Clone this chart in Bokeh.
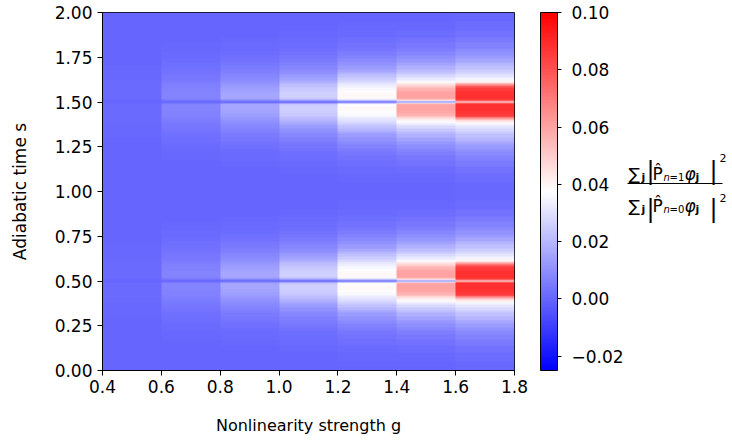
import numpy as np
from bokeh.plotting import figure
from bokeh.layouts import row
from bokeh.models import (LinearColorMapper, ColorBar, FixedTicker, PrintfTickFormatter,
                          CustomJSTickFormatter, Range1d)
from bokeh.core.properties import value
from bokeh.embed import file_html
from bokeh.resources import INLINE

# ---------------- data ----------------
g_edges = [0.4, 0.6, 0.8, 1.0, 1.2, 1.4, 1.6, 1.8]          # nonlinearity strength columns
s_centers = [0.5, 1.5]                                     # resonance centres in s
# distance |s - centre| : band edges
d_edges = [0, 0.004, 0.008, 0.012, 0.018, 0.025, 0.035, 0.05, 0.065, 0.08, 0.09,
           0.1, 0.11, 0.12, 0.135, 0.15, 0.165, 0.18, 0.2, 0.22, 0.24, 0.26,
           0.28, 0.3, 0.33, 0.36, 0.4, 0.45, 0.5]
# value in each band, one list per g column
col_g04 = [0, 0.0003, 0.0007, 0.001, 0.0012, 0.0012, 0.0012, 0.0011, 0.0011, 0.001,
           0.001, 0.0009, 0.0009, 0.0008, 0.0007, 0.0006, 0.0005, 0.0004, 0.0003,
           0.0003, 0.0002, 0.0002, 0.0001, 0.0001, 0, 0, 0, 0]
col_g06 = [0.0002, 0.002, 0.0045, 0.0065, 0.0075, 0.0075, 0.0075, 0.0072, 0.0068,
           0.0064, 0.006, 0.0056, 0.0052, 0.0047, 0.0042, 0.0037, 0.0032, 0.0027,
           0.0022, 0.0017, 0.0013, 0.001, 0.0007, 0.0005, 0.0003, 0.0002, 0.0001, 0]
col_g08 = [0.0005, 0.005, 0.01, 0.014, 0.016, 0.016, 0.016, 0.015, 0.014, 0.013,
           0.012, 0.011, 0.01, 0.009, 0.008, 0.007, 0.006, 0.005, 0.004, 0.003,
           0.0024, 0.0018, 0.0013, 0.0009, 0.0005, 0.0003, 0.0001, 0]
col_g10 = [0.001, 0.008, 0.017, 0.022, 0.025, 0.026, 0.026, 0.025, 0.024, 0.022,
           0.021, 0.019, 0.017, 0.015, 0.013, 0.011, 0.0095, 0.008, 0.0065, 0.005,
           0.004, 0.003, 0.0022, 0.0015, 0.001, 0.0005, 0.0002, 0]
col_g12 = [0.003, 0.015, 0.028, 0.035, 0.038, 0.039, 0.039, 0.038, 0.036, 0.034,
           0.032, 0.03, 0.028, 0.025, 0.022, 0.019, 0.016, 0.013, 0.011, 0.009,
           0.007, 0.0055, 0.0042, 0.003, 0.002, 0.0012, 0.0005, 0.0001]
col_g14 = [0.01, 0.03, 0.048, 0.056, 0.06, 0.06, 0.06, 0.059, 0.056, 0.05,
           0.045, 0.04, 0.036, 0.032, 0.028, 0.024, 0.021, 0.018, 0.015, 0.012,
           0.01, 0.008, 0.006, 0.0045, 0.003, 0.0018, 0.0008, 0.0002]
col_g16 = [0.05, 0.07, 0.083, 0.087, 0.088, 0.088, 0.088, 0.087, 0.085, 0.078,
           0.062, 0.047, 0.04, 0.035, 0.031, 0.028, 0.025, 0.022, 0.019, 0.016,
           0.013, 0.011, 0.009, 0.007, 0.005, 0.003, 0.0015, 0.0005]
columns = [col_g04, col_g06, col_g08, col_g10, col_g12, col_g14, col_g16]

x_ticks = [0.4, 0.6, 0.8, 1.0, 1.2, 1.4, 1.6, 1.8]
y_ticks = [0.0, 0.25, 0.5, 0.75, 1.0, 1.25, 1.5, 1.75, 2.0]
cb_ticks = [-0.02, 0.0, 0.02, 0.04, 0.06, 0.08, 0.10]
vmin, vmax = -0.025, 0.1

# ---------------- image table (step lookup of the bands, no interpolation) ----------------
nrows, ncols = 716, 412
s_rows = (np.arange(nrows) + 0.5) * 2.0 / nrows
d_rows = np.min(np.abs(s_rows[:, None] - np.array(s_centers)[None, :]), axis=1)
band = np.clip(np.searchsorted(d_edges, d_rows, side="right") - 1, 0, len(d_edges) - 2)
g_cols = 0.4 + (np.arange(ncols) + 0.5) * 1.4 / ncols
col_idx = np.clip(np.searchsorted(g_edges, g_cols, side="right") - 1, 0, len(columns) - 1)
table = np.array(columns)
img = table[col_idx[None, :], band[:, None]].astype(np.float32)

def bwr(n=256):
    out = []
    for i in range(n):
        t = i / (n - 1)
        if t < 0.5:
            r = g = 2 * t; b = 1.0
        else:
            r = 1.0; g = b = 2 * (1 - t)
        out.append("#%02x%02x%02x" % (round(r * 255), round(g * 255), round(b * 255)))
    return out

mapper = LinearColorMapper(palette=bwr(256), low=vmin, high=vmax)

FONT = "DejaVu Sans"
W1 = 626
p = figure(width=W1, height=442, x_range=(0.4, 1.8), y_range=(0, 2),
           output_backend="svg", toolbar_location=None,
           min_border_left=102, min_border_right=W1 - 514, min_border_top=12,
           min_border_bottom=72)
p.image(image=[img], x=0.4, y=0, dw=1.4, dh=2.0, color_mapper=mapper)

p.grid.visible = False
p.outline_line_color = "black"
for ax in (p.xaxis[0], p.yaxis[0]):
    ax.axis_line_color = "black"
    ax.major_tick_line_color = "black"
    ax.minor_tick_line_color = None
    ax.major_tick_out = 5
    ax.major_tick_in = 0
    ax.major_label_text_font = FONT
    ax.major_label_text_font_size = "17px"
    ax.major_label_text_color = "black"
    ax.axis_label_text_font = FONT
    ax.axis_label_text_font_style = "normal"
    ax.axis_label_text_color = "black"

p.xaxis.ticker = FixedTicker(ticks=x_ticks)
p.xaxis.formatter = PrintfTickFormatter(format="%.1f")
p.xaxis.axis_label = "Nonlinearity strength g"
p.xaxis.axis_label_text_font_size = "16px"
p.xaxis.major_label_standoff = 4
p.xaxis.axis_label_standoff = 20

p.yaxis.ticker = FixedTicker(ticks=y_ticks)
p.yaxis.formatter = PrintfTickFormatter(format="%.2f")
p.yaxis.axis_label = "Adiabatic time s"
p.yaxis.axis_label_text_font_size = "17px"
p.yaxis.major_label_standoff = 5
p.yaxis.axis_label_standoff = 22

cb = ColorBar(color_mapper=mapper, width=17, height=358, padding=0, margin=0,
              location=(26, 0),
              ticker=FixedTicker(ticks=cb_ticks),
              formatter=CustomJSTickFormatter(code="return (tick < -1e-9 ? '\u2212' : '') + Math.abs(tick).toFixed(2);"),
              major_tick_in=0, major_tick_out=4, major_tick_line_color="black",
              minor_tick_line_color=None,
              bar_line_color="black", bar_line_width=1,
              major_label_text_font=FONT, major_label_text_font_size="17px",
              major_label_text_color="black", label_standoff=10,
              background_fill_color=None, border_line_color=None)
p.add_layout(cb, "right")

# ---------------- colour-bar label: the fraction, as real text ----------------
# the row layout aligns this panel's frame with the main frame (page rows 12..370),
# so the y range is given in page pixel rows
q = figure(width=732 - W1, height=442, x_range=Range1d(W1, 732), y_range=Range1d(370, 12),
           output_backend="svg", toolbar_location=None, x_axis_type=None, y_axis_type=None,
           title=None, min_border=0, min_border_left=0, min_border_right=0,
           min_border_top=0, min_border_bottom=0, outline_line_color=None,
           background_fill_color=None, border_fill_color=None)
q.grid.visible = False

def put(txt, px, py, size, style="normal"):
    q.text(x=[px], y=[py], text=[txt], text_font=value(FONT),
           text_font_size=value("%dpx" % size), text_font_style=style,
           text_color="black", text_align="left", text_baseline="alphabetic")

def fraction_row(base, n_label, bar_base, sup_base):
    put("\u2211", 628, base, 17)
    put("j", 641, base + 4, 11, "bold")
    put("|", 646, bar_base, 24)
    put("P\u0302", 652, base, 17)
    put("n", 663, base + 4, 10, "italic")
    put("=" + n_label, 669, base + 4, 10)
    put("\u03c6", 684, base, 17, "italic")
    put("j", 695, base + 4, 11, "bold")
    put("|", 709, bar_base, 24)
    put("2", 719, sup_base, 11)

fraction_row(173, "1", 170, 157)
fraction_row(205, "0", 208, 197)
q.segment(x0=[627], y0=[183], x1=[722], y1=[183], line_color="black", line_width=1)

open("out.html", "w").write(file_html(row(p, q), INLINE))
